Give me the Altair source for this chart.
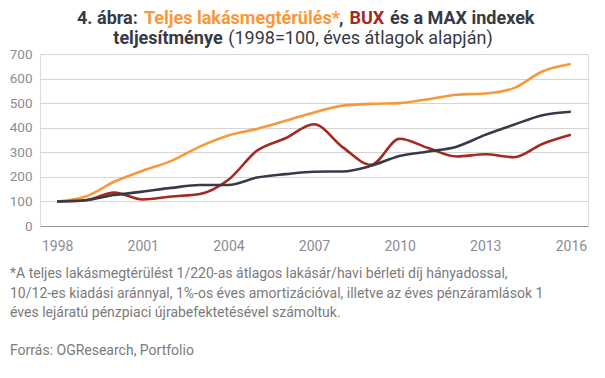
import altair as alt
import pandas as pd

years = list(range(1998, 2017))
lakas = [100, 120, 180, 225, 265, 323, 368, 395, 428, 462, 490, 497, 500, 516, 534, 539, 561, 629, 659]
bux = [100, 105, 136, 108, 120, 130, 188, 306, 357, 414, 321, 249, 355, 317, 283, 292, 280, 334, 371]
max_idx = [100, 105, 126, 140, 155, 167, 167, 197, 211, 221, 222, 245, 285, 303, 323, 371, 412, 451, 465]

series_names = ["Teljes lakásmegtérülés", "BUX", "MAX"]
series_colors = ["#F7993B", "#A52A1E", "#363B47"]

rows = []
for name, vals in zip(series_names, [lakas, bux, max_idx]):
    for y, v in zip(years, vals):
        rows.append({"ev": y, "ertek": v, "sorozat": name})
df = pd.DataFrame(rows)

FONT = "Roboto"
GRAY = "#8a8d93"

lines = alt.Chart(df).mark_line(interpolate="monotone", strokeWidth=2.6).encode(
    x=alt.X("ev:Q", scale=alt.Scale(domain=[1997.4, 2016.6], nice=False, zero=False),
            axis=alt.Axis(values=[1998, 2001, 2004, 2007, 2010, 2013, 2016], format="d",
                          title=None, grid=False, ticks=False, domainColor="#9a9a9a",
                          domainWidth=1.2, labelColor=GRAY, labelFontSize=14, labelFont=FONT,
                          labelPadding=13)),
    y=alt.Y("ertek:Q", scale=alt.Scale(domain=[0, 700], nice=False),
            axis=alt.Axis(values=list(range(0, 701, 100)), title=None, domain=False, ticks=False,
                          gridColor="#d4d4d4", labelColor=GRAY, labelFontSize=13.5, labelFont=FONT,
                          labelPadding=8)),
    color=alt.Color("sorozat:N", scale=alt.Scale(domain=series_names, range=series_colors), legend=None),
    order=alt.Order("ev:Q"),
)

one = pd.DataFrame({"a": [0]})

def txt(s, x, y, color, size, weight="normal"):
    return alt.Chart(one).mark_text(align="left", baseline="alphabetic", font=FONT,
                                    fontSize=size, fontWeight=weight, color=color).encode(
        text=alt.value(s), x=alt.value(x), y=alt.value(y))

DARK = "#353a44"
OR = "#F7993B"
RED = "#A52A1E"
TS = 18
Y1 = -30
Y2 = -10.5
OX = -40
title_layers = [
    txt("4. ábra:", 77 + OX, Y1, DARK, TS, "bold"),
    txt("Teljes lakásmegtérülés*", 144 + OX, Y1, OR, TS, "bold"),
    txt(",", 339 + OX, Y1, DARK, TS, "bold"),
    txt("BUX", 349.5 + OX, Y1, RED, TS, "bold"),
    txt("és a MAX indexek", 390 + OX, Y1, DARK, TS, "bold"),
    txt("teljesítménye", 113.3 + OX, Y2, DARK, TS, "bold"),
    txt("(1998=100, éves átlagok alapján)", 228.3 + OX, Y2, DARK, TS),
]
FG = "#7b7b7b"
FS = 14
foot_layers = [
    txt("*A teljes lakásmegtérülést 1/220-as átlagos lakásár/havi bérleti díj hányadossal,", -30, 224.3, FG, FS),
    txt("10/12-es kiadási aránnyal, 1%-os éves amortizációval, illetve az éves pénzáramlások 1", -30, 243.7, FG, FS),
    txt("éves lejáratú pénzpiaci újrabefektetésével számoltuk.", -30, 262.7, FG, FS),
    txt("Forrás: OGResearch, Portfolio", -30, 301, FG, FS),
]

chart = alt.layer(lines, *title_layers, *foot_layers).properties(
    width=548, height=172,
    autosize=alt.AutoSizeParams(type="none"),
    padding={"left": 32, "top": 46, "right": 9, "bottom": 144},
).configure_view(stroke=None).configure(background="white")

chart.save("out.html", embed_options={"renderer": "svg", "actions": False})
